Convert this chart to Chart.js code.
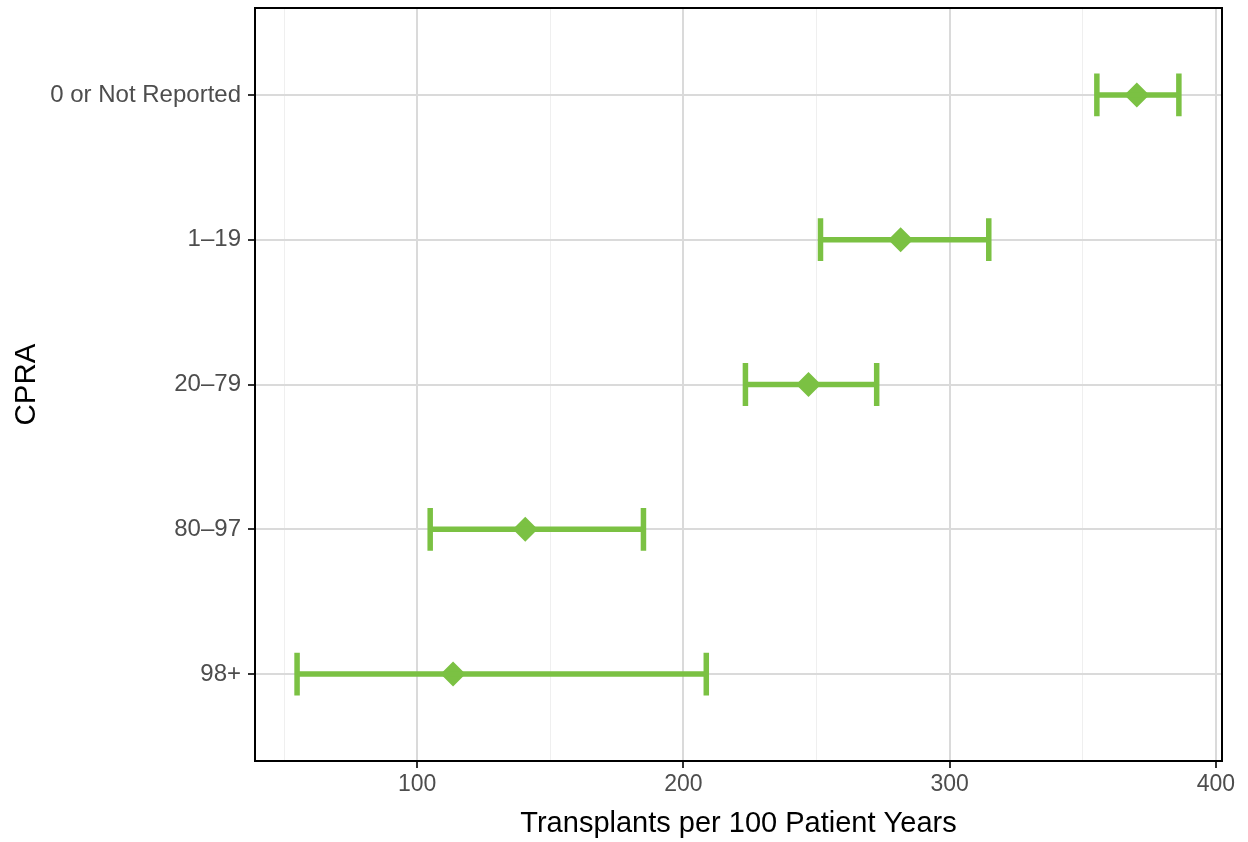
<!DOCTYPE html>
<html>
<head>
<meta charset="utf-8">
<title>CPRA transplant rates</title>
<script src="https://cdn.jsdelivr.net/npm/chart.js@4"></script>
<style>
  body { margin: 0; background: #fff; }
</style>
</head>
<body>
<canvas id="cpraChart" width="1248" height="842"></canvas>
<script>
// rate per 100 patient years, with confidence limits, by CPRA group
const categories = ['0 or Not Reported', '1–19', '20–79', '80–97', '98+'];
const rates   = [370.3, 281.6, 247.0, 140.6, 113.5];
const lowerCI = [355.3, 251.5, 223.3, 104.9, 54.9];
const upperCI = [386.1, 314.7, 272.6, 185.0, 208.6];
const xTicks  = [50, 100, 150, 200, 250, 300, 350, 400];

const green = '#7BC143';
const fontFam = "'Liberation Sans', Arial, sans-serif";
const capHalf = 0.148;   // half height of the whisker caps, in category units
const gap = { x: null, y: null };

// horizontal whiskers, one segment per row
let barPts = [];
categories.forEach((c, i) => {
	barPts.push({ x: lowerCI[i], y: i }, { x: upperCI[i], y: i }, gap);
});

// the little vertical caps at both ends
let capPts = [];
categories.forEach((c, i) => {
	capPts.push({ x: lowerCI[i], y: i - capHalf }, { x: lowerCI[i], y: i + capHalf }, gap);
	capPts.push({ x: upperCI[i], y: i - capHalf }, { x: upperCI[i], y: i + capHalf }, gap);
});

let pointPts = rates.map((r, i) => { return { x: r, y: i }; });

const isMajor = (v) => v % 100 === 0;

// black box around the panel
const panelBox = {
	id: 'panelBox',
	afterDatasetsDraw(chart) {
		const a = chart.chartArea;
		const ctx = chart.ctx;
		ctx.save();
		ctx.strokeStyle = '#000';
		ctx.lineWidth = 2;
		ctx.strokeRect(a.left, a.top, a.right - a.left, a.bottom - a.top);
		ctx.restore();
	}
};

let myChart = new Chart(document.getElementById('cpraChart'), {
	type: 'scatter',
	data: {
		datasets: [
			{
				data: barPts,
				showLine: true,
				spanGaps: false,
				borderColor: green,
				borderWidth: 5.5,
				borderCapStyle: 'butt',
				pointRadius: 0
			},
			{
				data: capPts,
				showLine: true,
				spanGaps: false,
				borderColor: green,
				borderWidth: 5.5,
				borderCapStyle: 'butt',
				pointRadius: 0
			},
			{
				data: pointPts,
				pointStyle: 'rectRot',
				pointRadius: 12.5,
				pointBorderWidth: 0,
				backgroundColor: green,
				borderColor: green
			}
		]
	},
	options: {
		responsive: false,
		animation: false,
		layout: {
			autoPadding: false,
			padding: { top: 8, right: 26, left: 0, bottom: 0 }
		},
		plugins: {
			legend: { display: false },
			tooltip: { enabled: false }
		},
		scales: {
			x: {
				type: 'linear',
				min: 39.1,
				max: 402.3,
				afterBuildTicks: (axis) => { axis.ticks = xTicks.map((v) => { return { value: v }; }); },
				afterFit: (axis) => {
					axis.height = 81;
					axis.paddingLeft = 0;
					axis.paddingRight = 0;
				},
				border: { display: false },
				grid: {
					color: (ctx) => isMajor(ctx.tick.value) ? '#DADADA' : '#EFEFEF',
					lineWidth: (ctx) => isMajor(ctx.tick.value) ? 2 : 1,
					tickColor: (ctx) => isMajor(ctx.tick.value) ? '#333333' : 'rgba(0,0,0,0)',
					tickLength: 7,
					tickWidth: 2
				},
				ticks: {
					autoSkip: false,
					maxRotation: 0,
					padding: 3,
					color: '#4D4D4D',
					font: { family: fontFam, size: 23 },
					callback: (v) => isMajor(v) ? String(v) : ''
				},
				title: {
					display: true,
					text: 'Transplants per 100 Patient Years',
					color: '#000',
					font: { family: fontFam, size: 29 },
					padding: { top: 0, bottom: 1 }
				}
			},
			y: {
				type: 'linear',
				min: -0.6,
				max: 4.6,
				reverse: true,
				afterBuildTicks: (axis) => { axis.ticks = categories.map((c, i) => { return { value: i }; }); },
				afterFit: (axis) => {
					axis.width = 255;
					axis.paddingTop = 0;
					axis.paddingBottom = 0;
				},
				border: { display: false },
				grid: {
					color: '#DADADA',
					lineWidth: 2,
					tickColor: '#333333',
					tickLength: 7,
					tickWidth: 2
				},
				ticks: {
					autoSkip: false,
					padding: 7,
					color: '#4D4D4D',
					font: { family: fontFam, size: 24 },
					callback: (v) => categories[v]
				},
				title: {
					display: true,
					text: 'CPRA',
					color: '#000',
					font: { family: fontFam, size: 29.5 },
					padding: { top: 9, bottom: 0 }
				}
			}
		}
	},
	plugins: [panelBox]
});
</script>
</body>
</html>
